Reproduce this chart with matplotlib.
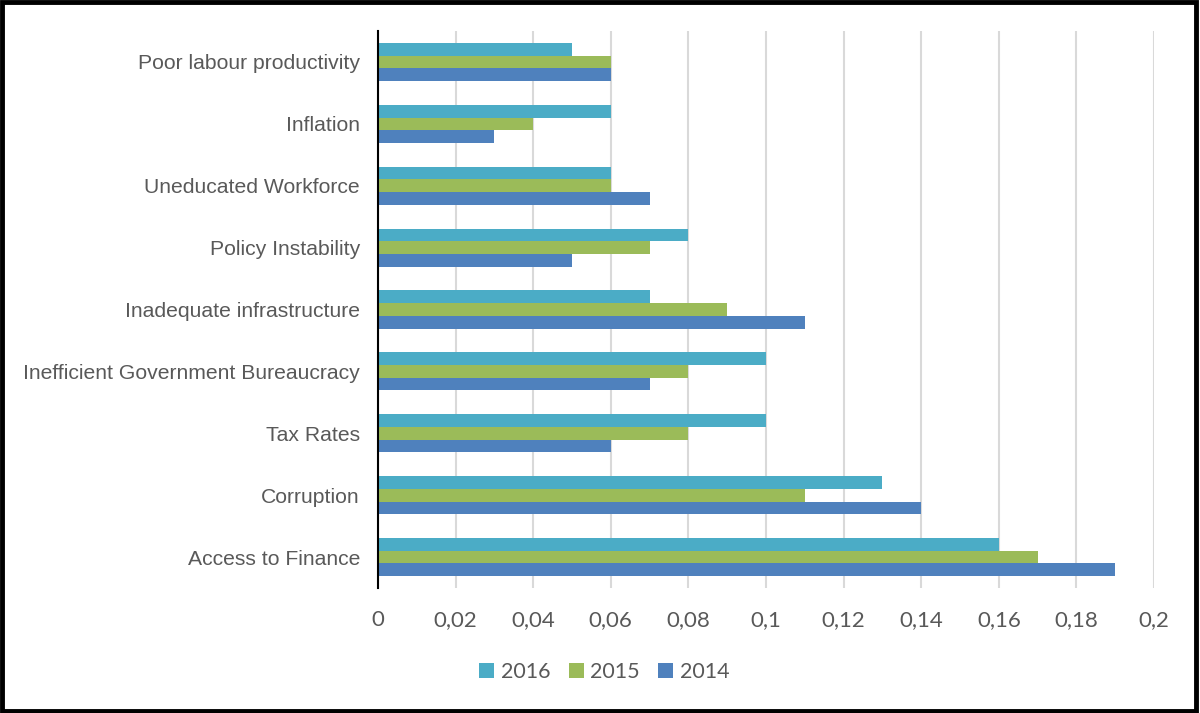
import matplotlib.pyplot as plt
import numpy as np
from matplotlib.patches import Rectangle

# obstaculos e participacao por ano
categorias = ['Poor labour productivity', 'Inflation', 'Uneducated Workforce',
              'Policy Instability', 'Inadequate infrastructure',
              'Inefficient Government Bureaucracy', 'Tax Rates', 'Corruption',
              'Access to Finance']
v2016 = [0.05, 0.06, 0.06, 0.08, 0.07, 0.10, 0.10, 0.13, 0.16]
v2015 = [0.06, 0.04, 0.06, 0.07, 0.09, 0.08, 0.08, 0.11, 0.17]
v2014 = [0.06, 0.03, 0.07, 0.05, 0.11, 0.07, 0.06, 0.14, 0.19]
anos = ['2016', '2015', '2014']
ticks = [0, 0.02, 0.04, 0.06, 0.08, 0.1, 0.12, 0.14, 0.16, 0.18, 0.2]
tick_labels = ['0', '0,02', '0,04', '0,06', '0,08', '0,1', '0,12', '0,14',
               '0,16', '0,18', '0,2']

cores = ['#4BACC6', '#9BBB59', '#4F81BD']
cinza = '#595959'

fig = plt.figure(figsize=(12, 7.13), dpi=100)
ax = fig.add_axes([0.315, 0.1753, 0.6467, 0.7812])

y = np.arange(len(categorias))
h = 0.205
series = [v2016, v2015, v2014]
for k in range(3):
    ax.barh(y + (k - 1) * h, series[k], height=h, color=cores[k],
            label=anos[k], zorder=3)

ax.set_ylim(len(categorias) - 0.5, -0.5)
ax.set_xlim(0, 0.2)
ax.set_yticks(y)
ax.set_yticklabels(categorias, fontsize=15.2, color=cinza,
                   family='Liberation Sans')
ax.set_xticks(ticks)
ax.set_xticklabels(tick_labels, fontsize=16, color=cinza, family='Lato')
ax.tick_params(length=0)
ax.tick_params(axis='y', pad=13)
ax.tick_params(axis='x', pad=16)
ax.grid(axis='x', color='#D9D9D9', linewidth=1.5, zorder=0)
for lado in ['top', 'right', 'bottom']:
    ax.spines[lado].set_visible(False)
ax.spines['left'].set_color('black')
ax.spines['left'].set_linewidth(1.5)
ax.spines['left'].set_zorder(4)

leg = fig.legend(loc='center', bbox_to_anchor=(0.5035, 0.0575), ncol=3,
                 frameon=False, handlelength=0.7, handleheight=0.7,
                 columnspacing=0.85, handletextpad=0.3,
                 prop={'family': 'Lato', 'size': 15.5})
for t in leg.get_texts():
    t.set_color(cinza)

# moldura em volta da figura
fig.patches.append(Rectangle((0.0015, 0.0035), 0.9955, 0.993,
                             transform=fig.transFigure, fill=False,
                             edgecolor='black', linewidth=3.5))

fig.savefig('out.png', dpi=100)
